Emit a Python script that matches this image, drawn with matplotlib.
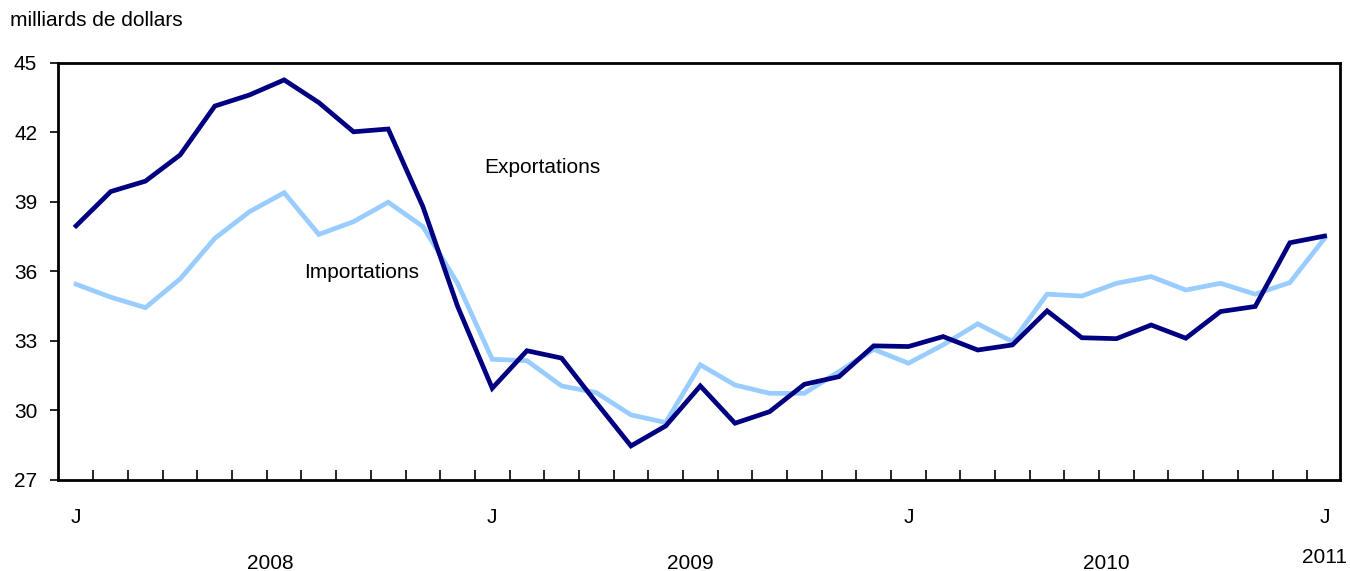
import matplotlib
matplotlib.use('Agg')
import matplotlib.pyplot as plt
import matplotlib.transforms as mtransforms

plt.rcParams['font.family'] = ['Liberation Sans', 'DejaVu Sans']

# monthly values, Jan 2008 .. Jan 2011 (billions of dollars)
exportations = [37.97, 39.45, 39.9, 41.03, 43.14, 43.62, 44.27, 43.29, 42.03, 42.15, 38.8, 34.5,
                30.96, 32.58, 32.26, 30.34, 28.47, 29.33, 31.06, 29.45, 29.95, 31.13, 31.46, 32.79,
                32.76, 33.19, 32.61, 32.83, 34.30, 33.14, 33.10, 33.69, 33.12, 34.27, 34.49, 37.24,
                37.53]
importations = [35.45, 34.89, 34.44, 35.68, 37.43, 38.58, 39.40, 37.6, 38.15, 38.99, 37.94, 35.49,
                32.21, 32.15, 31.06, 30.77, 29.81, 29.48, 31.97, 31.1, 30.74, 30.74, 31.68, 32.64,
                32.04, 32.83, 33.74, 32.97, 35.02, 34.94, 35.49, 35.78, 35.2, 35.49, 35.02, 35.52,
                37.43]
months = list(range(len(exportations)))
j_positions = [0, 12, 24, 36]
years = ['2008', '2009', '2010', '2011']
year_positions = [5.6, 17.7, 29.7, 36]
y_ticks = [27, 30, 33, 36, 39, 42, 45]

fig = plt.figure(figsize=(13.5, 5.71), dpi=100)
ax = fig.add_axes([0.043, 0.1594, 0.9497, 0.7303])

ax.plot(months, importations, color='#99ccff', lw=3.4, solid_joinstyle='miter')
ax.plot(months, exportations, color='#000080', lw=3.4, solid_joinstyle='miter')

ax.set_xlim(-0.52, 36.45)
ax.set_ylim(27, 45)
ax.set_yticks(y_ticks)
ax.tick_params(axis='y', direction='out', length=6, width=1.2, labelsize=15, pad=9)

ax.set_xticks(j_positions)
ax.set_xticklabels(['J'] * len(j_positions))
ax.set_xticks([m + 0.5 for m in months[:-1]], minor=True)
ax.tick_params(axis='x', which='major', length=0, labelsize=15, pad=20)
ax.tick_params(axis='x', which='minor', direction='in', length=7, width=1.2)

for s in ax.spines.values():
    s.set_linewidth(2)

trans = mtransforms.blended_transform_factory(ax.transData, ax.transAxes)
for pos, yr in zip(year_positions, years):
    yy = -0.2 if yr != '2011' else -0.185
    ax.text(pos, yy, yr, transform=trans, ha='center', va='center', fontsize=15)

ax.text(11.76, 40.47, 'Exportations', ha='left', va='center', fontsize=15)
ax.text(6.58, 35.94, 'Importations', ha='left', va='center', fontsize=15)

fig.text(10 / 1350, 1 - 20 / 571, 'milliards de dollars', ha='left', va='center', fontsize=15)

fig.savefig('out.png', dpi=100)
